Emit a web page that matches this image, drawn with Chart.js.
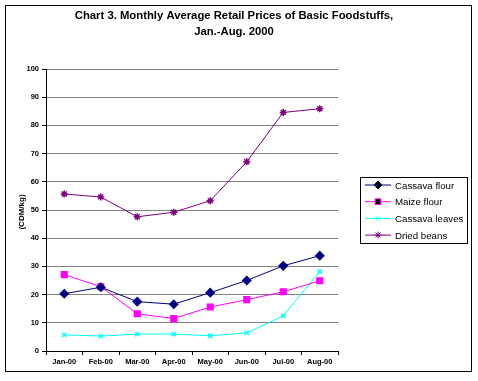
<!DOCTYPE html>
<html>
<head>
<meta charset="utf-8">
<script src="https://cdn.jsdelivr.net/npm/chart.js@4.4.0/dist/chart.umd.min.js"></script>
<style>
  body { margin: 0; background: #fff; }
  #wrap { width: 478px; height: 381px; }
</style>
</head>
<body>
<div id="wrap"><canvas id="myChart" width="478" height="381"></canvas></div>
<script>
const months = ['Jan-00', 'Feb-00', 'Mar-00', 'Apr-00', 'May-00', 'Jun-00', 'Jul-00', 'Aug-00'];
const cassavaFlour = [20.3, 22.6, 17.5, 16.6, 20.7, 25.0, 30.2, 33.8];
const maizeFlour = [27.1, 22.8, 13.2, 11.5, 15.6, 18.2, 21.0, 24.9];
const cassavaLeaves = [5.7, 5.3, 6.0, 6.0, 5.4, 6.4, 12.5, 28.2];
const driedBeans = [55.7, 54.6, 47.6, 49.2, 53.3, 67.1, 84.6, 85.9];
const yTicks = [0, 10, 20, 30, 40, 50, 60, 70, 80, 90, 100];

const titleLines = ['Chart 3. Monthly Average Retail Prices of Basic Foodstuffs,', 'Jan.-Aug. 2000'];
const yTitle = '(CDM/kg)';

const frame = {
  id: 'frame',
  beforeDraw(chart) {
    const ctx = chart.ctx;
    ctx.save();
    ctx.fillStyle = '#fff';
    ctx.fillRect(0, 0, chart.width, chart.height);
    ctx.restore();
  },
  afterDraw(chart) {
    const ctx = chart.ctx;
    ctx.save();
    // outer border
    ctx.strokeStyle = '#000';
    ctx.lineWidth = 1;
    ctx.strokeRect(5.5, 5.5, 466, 366);

    // title
    ctx.fillStyle = '#000';
    ctx.font = 'bold 11.3px "Liberation Sans", Arial, sans-serif';
    ctx.textAlign = 'center';
    ctx.textBaseline = 'middle';
    ctx.fillText(titleLines[0], 234, 16);
    ctx.fillText(titleLines[1], 234, 32);

    // y title
    ctx.save();
    ctx.translate(22, 212);
    ctx.rotate(-Math.PI / 2);
    ctx.font = 'bold 8px "Liberation Sans", Arial, sans-serif';
    ctx.fillText(yTitle, 0, 0);
    ctx.restore();

    // legend
    ctx.strokeRect(360.5, 177.5, 107, 66);
    ctx.textAlign = 'left';
    ctx.font = '9.7px "Liberation Sans", Arial, sans-serif';
    chart.data.datasets.forEach((ds, i) => {
      const y = 185 + i * 16.7;
      ctx.strokeStyle = ds.borderColor;
      ctx.lineWidth = 1;
      ctx.beginPath();
      ctx.moveTo(365, y);
      ctx.lineTo(391, y);
      ctx.stroke();
      Chart.helpers.drawPoint(ctx, {
        pointStyle: ds.pointStyle,
        radius: ds.pointRadius,
        borderWidth: ds.pointBorderWidth
      }, 378, y);
      ctx.fillStyle = '#000';
      ctx.fillText(ds.label, 395, y + 1);
    });
    ctx.restore();
  }
};

function series(label, values, color, style, radius) {
  return {
    label: label,
    data: values,
    borderColor: color,
    backgroundColor: color,
    borderWidth: 1,
    pointStyle: style,
    pointRadius: radius,
    pointHoverRadius: radius,
    pointBorderWidth: 1.5,
    pointBackgroundColor: color,
    pointBorderColor: color,
    tension: 0
  };
}

new Chart('myChart', {
  type: 'line',
  data: {
    labels: months,
    datasets: [
      series('Cassava flour', cassavaFlour, '#000080', 'rectRot', 4),
      series('Maize flour', maizeFlour, '#ff00ff', 'rect', 4),
      series('Cassava leaves', cassavaLeaves, '#00ffff', 'crossRot', 3),
      series('Dried beans', driedBeans, '#800080', 'star', 3.5)
    ]
  },
  options: {
    responsive: false,
    animation: false,
    layout: { padding: { top: 69, right: 140, left: 0, bottom: 0 } },
    plugins: {
      legend: { display: false },
      tooltip: { enabled: false }
    },
    scales: {
      x: {
        offset: true,
        grid: {
          offset: true,
          drawOnChartArea: false,
          drawTicks: true,
          tickLength: 4,
          tickColor: '#000'
        },
        border: { color: '#000', width: 1 },
        ticks: {
          color: '#000',
          font: { family: '"Liberation Sans", Arial, sans-serif', size: 7.5, weight: 'bold' },
          padding: 2,
          maxRotation: 0,
          autoSkip: false
        },
        afterFit(scale) { scale.height = 30; }
      },
      y: {
        min: 0,
        max: 100,
        afterBuildTicks(scale) { scale.ticks = yTicks.map(v => ({ value: v })); },
        grid: {
          color: '#808080',
          lineWidth: 1,
          drawTicks: true,
          tickLength: 4,
          tickColor: '#000'
        },
        border: { color: '#000', width: 1 },
        ticks: {
          color: '#000',
          font: { family: '"Liberation Sans", Arial, sans-serif', size: 7.5, weight: 'bold' },
          padding: 3
        },
        afterFit(scale) { scale.width = 46; }
      }
    }
  },
  plugins: [frame]
});
</script>
</body>
</html>
